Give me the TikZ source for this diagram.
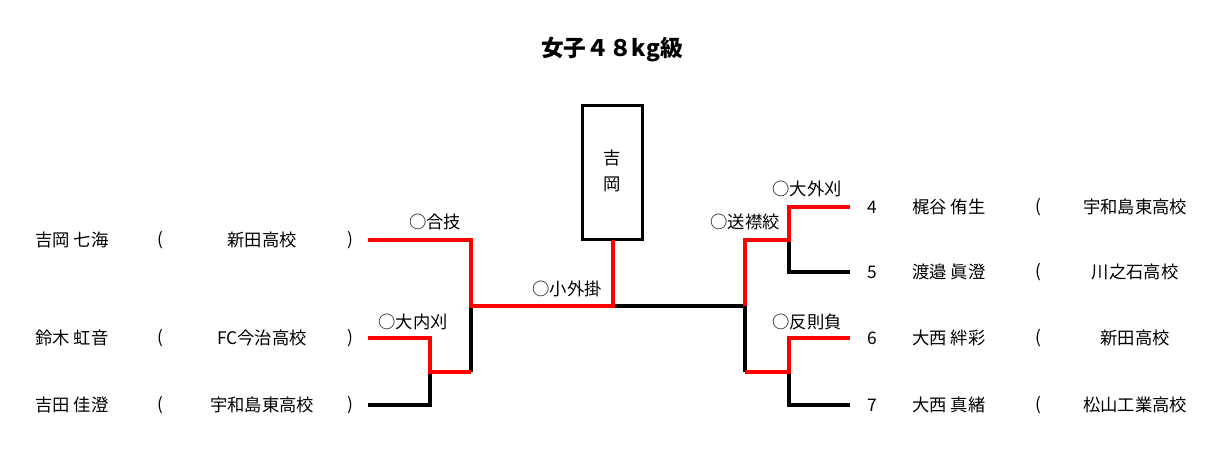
\documentclass[tikz,border=0pt]{standalone}
\usepackage{fontspec}
\setmainfont{Noto Sans CJK JP}
\begin{document}
\begin{tikzpicture}[x=0.75pt,y=-0.75pt,
 t/.style={font=\fontsize{13}{15}\selectfont,inner sep=0pt},
 win/.style={draw=red,line width=3.2pt},
 lose/.style={draw=black,line width=2.4pt}]
\useasboundingbox (0,0) rectangle (1224,452);
\node[t,font=\fontsize{17}{19}\selectfont\bfseries] (title) at (612,50) {女子４８kg級};
\node[draw,line width=2.4pt,minimum width=45pt,minimum height=101pt,inner sep=0pt] (box) at (612.5,172.5) {};
\node[t] (b1) at (612,158) {吉};
\node[t] (b2) at (612,184) {岡};
\coordinate (L1) at (368,240); \coordinate (L1a) at (471,240); \coordinate (LM) at (471,306);
\coordinate (C) at (613,306); \coordinate (Cb) at (613,240);
\coordinate (L2) at (368,338); \coordinate (L2a) at (430,338); \coordinate (L23) at (430,372); \coordinate (L23b) at (471,372);
\coordinate (L3) at (368,405); \coordinate (L3a) at (430,405);
\coordinate (RM) at (745,306); \coordinate (RU) at (745,240); \coordinate (RL) at (745,372);
\coordinate (R1) at (850,207); \coordinate (R1a) at (789,207); \coordinate (R12) at (789,240);
\coordinate (R2) at (850,272); \coordinate (R2a) at (789,272);
\coordinate (R3) at (850,338); \coordinate (R3a) at (789,338); \coordinate (R34) at (789,372);
\coordinate (R4) at (850,405); \coordinate (R4a) at (789,405);
\path[lose] (L23b) -- (LM);
\path[lose] (L3) -- (L3a) -- (L23);
\path[lose] (C) -- (RM) -- (RL);
\path[lose] (R12) -- (R2a) -- (R2);
\path[lose] (R34) -- (R4a) -- (R4);
\path[win] (L1) -- (L1a) -- (LM) -- (C) -- (Cb);
\path[win] (L2) -- (L2a) -- (L23) -- (L23b);
\path[win] (RM) -- (RU) -- (R12) -- (R1a) -- (R1);
\path[win] (RL) -- (R34) -- (R3a) -- (R3);
\node[t] (w1) at (435,222) {○合技};
\node[t] (w2) at (413,322) {○大内刈};
\node[t] (w3) at (567,289) {○小外掛};
\node[t] (w4) at (745,222) {○送襟絞};
\node[t] (w5) at (807,189) {○大外刈};
\node[t] (w6) at (807,322) {○反則負};
\foreach \y/\n/\s [count=\i] in {240/吉岡 七海/新田高校, 338/鈴木 虹音/FC今治高校, 405/吉田 佳澄/宇和島東高校}{
 \node[t,anchor=west] (ln\i) at (35,\y) {\n};
 \node[t] (lo\i) at (160,\y) {(};
 \node[t] (ls\i) at (262,\y) {\s};
 \node[t] (lc\i) at (350,\y) {)};
}
\foreach \y/\k/\n/\s [count=\i] in {207/4/梶谷 侑生/宇和島東高校, 272/5/渡邉 眞澄/川之石高校, 338/6/大西 絆彩/新田高校, 405/7/大西 真緒/松山工業高校}{
 \node[t] (rk\i) at (872,\y) {\k};
 \node[t,anchor=west] (rn\i) at (912,\y) {\n};
 \node[t] (ro\i) at (1038,\y) {(};
 \node[t] (rs\i) at (1135,\y) {\s};
}
\end{tikzpicture}
\end{document}
